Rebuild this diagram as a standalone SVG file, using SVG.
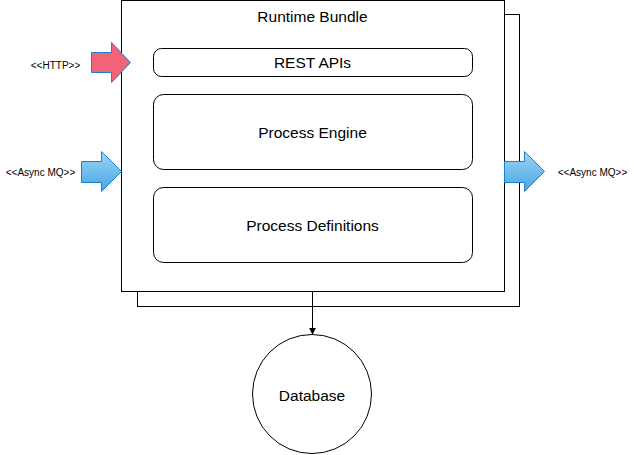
<svg xmlns="http://www.w3.org/2000/svg" width="634" height="455" viewBox="0 0 634 455">
<defs>
<linearGradient id="blueGrad" x1="0" y1="0" x2="0" y2="1">
<stop offset="0" stop-color="#9dd4f7"/>
<stop offset="1" stop-color="#46a6e2"/>
</linearGradient>
<marker id="arrow" viewBox="0 0 10 10" refX="9" refY="5" markerWidth="7" markerHeight="7" markerUnits="userSpaceOnUse" orient="auto">
<path d="M0,0 L10,5 L0,10 z" fill="#000"/>
</marker>
</defs>
<style>
.box{fill:#fff;stroke:#000;stroke-width:1}
.rbox{fill:#fff;stroke:#000;stroke-width:1}
.lbl{font-family:"Liberation Sans",Arial,sans-serif;font-size:15.5px;fill:#000;text-anchor:middle}
.small{font-family:"Liberation Sans",Arial,sans-serif;font-size:10px;fill:#000;text-anchor:middle}
.blue{fill:url(#blueGrad);stroke:#1a84c6;stroke-width:1}
.red{fill:#f26378;stroke:#1a84c6;stroke-width:1}
.conn{fill:none;stroke:#000;stroke-width:1}
</style>
<g id="runtime-bundle-back">
<rect class="box" x="137.5" y="14.5" width="382" height="292"/>
</g>
<g id="runtime-bundle">
<rect class="box" x="121.5" y="0.5" width="383" height="291"/>
<text class="lbl" x="312.5" y="21.5">Runtime Bundle</text>
</g>
<g id="rest-apis">
<rect class="rbox" x="153.5" y="48.5" width="319" height="28" rx="8" ry="8"/>
<text class="lbl" x="312.5" y="67.5">REST APIs</text>
</g>
<g id="process-engine">
<rect class="rbox" x="153.5" y="94.5" width="319" height="75" rx="10" ry="10"/>
<text class="lbl" x="312.5" y="137.5">Process Engine</text>
</g>
<g id="process-definitions">
<rect class="rbox" x="153.5" y="187.5" width="319" height="75" rx="10" ry="10"/>
<text class="lbl" x="312.5" y="230.5">Process Definitions</text>
</g>
<g id="database">
<circle class="box" cx="312" cy="394" r="59.5"/>
<text class="lbl" x="312" y="400.5">Database</text>
</g>
<g id="http-input">
<path class="red" d="M91.5,52.5 L111.5,52.5 L111.5,42.5 L130.5,62.5 L111.5,82.5 L111.5,72.5 L91.5,72.5 Z"/>
<text class="small" x="55.5" y="68.5">&lt;&lt;HTTP&gt;&gt;</text>
</g>
<g id="async-mq-input">
<path class="blue" d="M81.5,161.5 L101.5,161.5 L101.5,151.5 L121.5,171.5 L101.5,191.5 L101.5,182.5 L81.5,182.5 Z"/>
<text class="small" x="40.5" y="175.5">&lt;&lt;Async MQ&gt;&gt;</text>
</g>
<g id="async-mq-output">
<path class="blue" d="M504.5,161.5 L524.5,161.5 L524.5,151.5 L544.5,171.5 L524.5,191.5 L524.5,182.5 L504.5,182.5 Z"/>
<text class="small" x="592.5" y="175.5">&lt;&lt;Async MQ&gt;&gt;</text>
</g>
<g id="connectors">
<line class="conn" x1="312.5" y1="292" x2="312.5" y2="334" marker-end="url(#arrow)"/>
</g>
</svg>
